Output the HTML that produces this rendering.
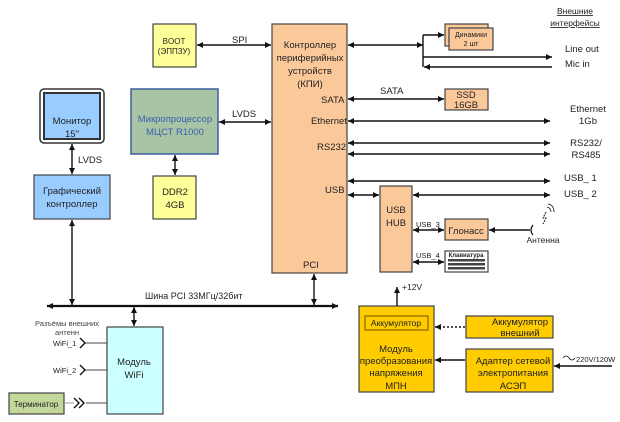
<!DOCTYPE html>
<html><head><meta charset="utf-8"><style>
body{margin:0;background:#fff;overflow:hidden}
svg{display:block;font-family:"Liberation Sans",sans-serif}
text{fill:#222}
</style></head><body>
<svg width="620" height="422" viewBox="0 0 620 422" xmlns="http://www.w3.org/2000/svg">
<defs>
<marker id="a" viewBox="0 0 10 10" refX="10" refY="5" markerWidth="8" markerHeight="6" orient="auto-start-reverse" markerUnits="userSpaceOnUse"><path d="M0,0L10,5L0,10z" fill="#111"/></marker>
</defs>
<g stroke="#444" stroke-width="1.2">
<rect x="153" y="24" width="43" height="43" fill="#FFFF99"/>
<rect x="272" y="24" width="75" height="249" fill="#FBC89A"/>
<rect x="40" y="89" width="64" height="54" rx="4" fill="#fff" stroke="#333" stroke-width="1.5"/>
<rect x="44" y="93" width="56" height="46" fill="#99CCFF" stroke="#333" stroke-width="2"/>
<rect x="131" y="89" width="87" height="65" fill="#A9C4A4" stroke="#3a5fa0" stroke-width="1.5"/>
<rect x="153" y="176" width="43" height="43" fill="#FFFF99"/>
<rect x="34" y="175" width="76" height="44" fill="#99CCFF"/>
<rect x="445" y="24" width="43" height="22" fill="#FBC89A"/>
<rect x="449" y="28" width="44" height="22" fill="#FBC89A"/>
<rect x="445" y="89" width="43" height="21" fill="#FBC89A"/>
<rect x="380" y="186" width="32" height="86" fill="#FBC89A"/>
<rect x="445" y="219" width="43" height="21" fill="#FBC89A"/>
<rect x="445" y="251" width="43" height="21" fill="#fff"/>
<rect x="107" y="327" width="56" height="87" fill="#CCFFFF"/>
<rect x="9" y="393" width="55" height="21" fill="#C4D79B"/>
<rect x="359" y="306" width="75" height="86" fill="#FFCC00"/>
<rect x="365" y="316" width="63" height="14" fill="#FFCC00" stroke="#886600"/>
<rect x="466" y="316" width="87" height="22" fill="#FFCC00"/>
<rect x="466" y="349" width="87" height="43" fill="#FFCC00"/>
</g>
<g fill="#444">
<rect x="448" y="259" width="37" height="2.5"/><rect x="448" y="263" width="37" height="2.5"/><rect x="448" y="267" width="37" height="2.5"/>
</g>
<g stroke="#111" stroke-width="1.4" fill="none">
<line x1="197" y1="45" x2="271" y2="45" marker-start="url(#a)" marker-end="url(#a)"/>
<line x1="219" y1="122" x2="271" y2="122" marker-start="url(#a)" marker-end="url(#a)"/>
<line x1="72" y1="144" x2="72" y2="174" marker-start="url(#a)" marker-end="url(#a)"/>
<line x1="175" y1="155" x2="175" y2="175" marker-start="url(#a)" marker-end="url(#a)"/>
<line x1="348" y1="45" x2="423" y2="45" marker-start="url(#a)" marker-end="url(#a)"/>
<line x1="423" y1="35" x2="423" y2="67"/>
<line x1="423" y1="35" x2="444" y2="35" marker-end="url(#a)"/>
<line x1="423" y1="57" x2="552" y2="57" marker-end="url(#a)"/>
<line x1="552" y1="67" x2="424" y2="67" marker-end="url(#a)"/>
<line x1="348" y1="99" x2="444" y2="99" marker-start="url(#a)" marker-end="url(#a)"/>
<line x1="348" y1="121" x2="550" y2="121" marker-start="url(#a)" marker-end="url(#a)"/>
<line x1="348" y1="143" x2="550" y2="143" marker-start="url(#a)" marker-end="url(#a)"/>
<line x1="348" y1="154" x2="550" y2="154" marker-start="url(#a)" marker-end="url(#a)"/>
<line x1="348" y1="181" x2="550" y2="181" marker-start="url(#a)" marker-end="url(#a)"/>
<line x1="348" y1="195" x2="379" y2="195" marker-start="url(#a)" marker-end="url(#a)"/>
<line x1="413" y1="195" x2="550" y2="195" marker-start="url(#a)" marker-end="url(#a)"/>
<line x1="413" y1="230" x2="444" y2="230" marker-start="url(#a)" marker-end="url(#a)"/>
<line x1="413" y1="262" x2="444" y2="262" marker-start="url(#a)" marker-end="url(#a)"/>
<line x1="530" y1="230" x2="489" y2="230" marker-end="url(#a)"/>
<path d="M533,225 q-4,5 0,10" stroke-width="1.2"/>
<line x1="397" y1="306" x2="397" y2="287" marker-end="url(#a)"/>
<line x1="465" y1="327" x2="435" y2="327" stroke-dasharray="2,2" marker-end="url(#a)"/>
<line x1="465" y1="360" x2="435" y2="360" marker-end="url(#a)"/>
<line x1="612" y1="366" x2="554" y2="366" marker-end="url(#a)"/>
<line x1="47" y1="306" x2="338" y2="306" stroke-width="2.2" marker-start="url(#a)" marker-end="url(#a)"/>
<line x1="314" y1="274" x2="314" y2="305" marker-start="url(#a)" marker-end="url(#a)"/>
<line x1="72" y1="220" x2="72" y2="305" marker-start="url(#a)" marker-end="url(#a)"/>
<line x1="134" y1="307" x2="134" y2="326" marker-start="url(#a)" marker-end="url(#a)"/>
<line x1="84" y1="343" x2="107" y2="343" stroke="#444" stroke-width="1"/>
<line x1="84" y1="370" x2="107" y2="370" stroke="#444" stroke-width="1"/>
<line x1="64" y1="403" x2="74" y2="403" stroke="#999" stroke-width="1"/>
<line x1="86" y1="403" x2="107" y2="403" stroke="#444" stroke-width="1"/>
<path d="M80,338 l5,5 l-5,5 M80,365 l5,5 l-5,5 M74,398 l5,5 l-5,5 M79,398 l5,5 l-5,5" stroke-width="1.4"/>
<path d="M546,212 l-3,6 l3,0 l-3,6" stroke-width="1" stroke-dasharray="2,1"/>
<path d="M547,207 q4,1 4,5 M548,204 q6,1 6,8" stroke-width="0.8"/>
<path d="M563,358 q3,-4 6,0 t6,0" stroke-width="0.8"/>
</g>
<g font-size="9.5" text-anchor="middle">
<text x="174" y="44" font-size="8">BOOT</text><text x="174" y="54" font-size="8">(ЭППЗУ)</text>
<text x="310" y="48">Контроллер</text><text x="310" y="61">периферийных</text><text x="310" y="74">устройств</text><text x="310" y="87">(КПИ)</text>
<text x="72" y="124">Монитор</text><text x="72" y="137">15"</text>
<text x="175" y="122" style="fill:#3a5fb0">Микропроцессор</text><text x="175" y="135" style="fill:#3a5fb0">МЦСТ R1000</text>
<text x="175" y="195">DDR2</text><text x="175" y="208">4GB</text>
<text x="72" y="194">Графический</text><text x="72" y="207">контроллер</text>
<text x="471" y="37" font-size="7">Динамики</text><text x="471" y="46" font-size="7">2 шт</text>
<text x="466" y="98">SSD</text><text x="466" y="108">16GB</text>
<text x="396" y="213">USB</text><text x="396" y="226">HUB</text>
<text x="466" y="234">Глонасс</text>
<text x="466" y="257" font-size="6" font-weight="bold">Клавиатура</text>
<text x="134" y="365">Модуль</text><text x="134" y="378">WiFi</text>
<text x="36" y="407" font-size="8">Терминатор</text>
<text x="396" y="326" font-size="8.5">Аккумулятор</text>
<text x="396" y="352">Модуль</text><text x="396" y="364">преобразования</text><text x="396" y="376">напряжения</text><text x="396" y="389">МПН</text>
<text x="520" y="325">Аккумулятор</text><text x="520" y="336">внешний</text>
<text x="513" y="364">Адаптер сетевой</text><text x="513" y="376">электропитания</text><text x="513" y="389">АСЭП</text>
<text x="575" y="14" font-size="8.5" text-decoration="underline">Внешние</text><text x="575" y="26" font-size="8.5" text-decoration="underline">интерфейсы</text>
<text x="588" y="112">Ethernet</text><text x="588" y="124">1Gb</text>
<text x="586" y="146">RS232/</text><text x="586" y="158">RS485</text>
<text x="543" y="243" font-size="8.5">Антенна</text>
<text x="67" y="326" font-size="7.5" style="fill:#444">Разъёмы внешних</text><text x="67" y="335" font-size="7.5" style="fill:#444">антенн</text>
</g>
<g font-size="9.5">
<text x="232" y="43">SPI</text>
<text x="232" y="117">LVDS</text>
<text x="78" y="163">LVDS</text>
<text x="380" y="94">SATA</text>
<text x="321" y="103">SATA</text>
<text x="311" y="124">Ethernet</text>
<text x="317" y="150">RS232</text>
<text x="325" y="193">USB</text>
<text x="303" y="268">PCI</text>
<text x="565" y="52">Line out</text>
<text x="565" y="67">Mic in</text>
<text x="564" y="181">USB_ 1</text>
<text x="564" y="197">USB_ 2</text>
<text x="416" y="227" font-size="7.5">USB_3</text>
<text x="416" y="258" font-size="7.5">USB_4</text>
<text x="402" y="290" font-size="8.5">+12V</text>
<text x="145" y="299" font-size="9">Шина PCI 33МГц/32бит</text>
<text x="53" y="346" font-size="7.5">WiFi_1</text>
<text x="53" y="373" font-size="7.5">WiFi_2</text>
<text x="576" y="362" font-size="7.5">220V/120W</text>
</g>
</svg>
</body></html>
